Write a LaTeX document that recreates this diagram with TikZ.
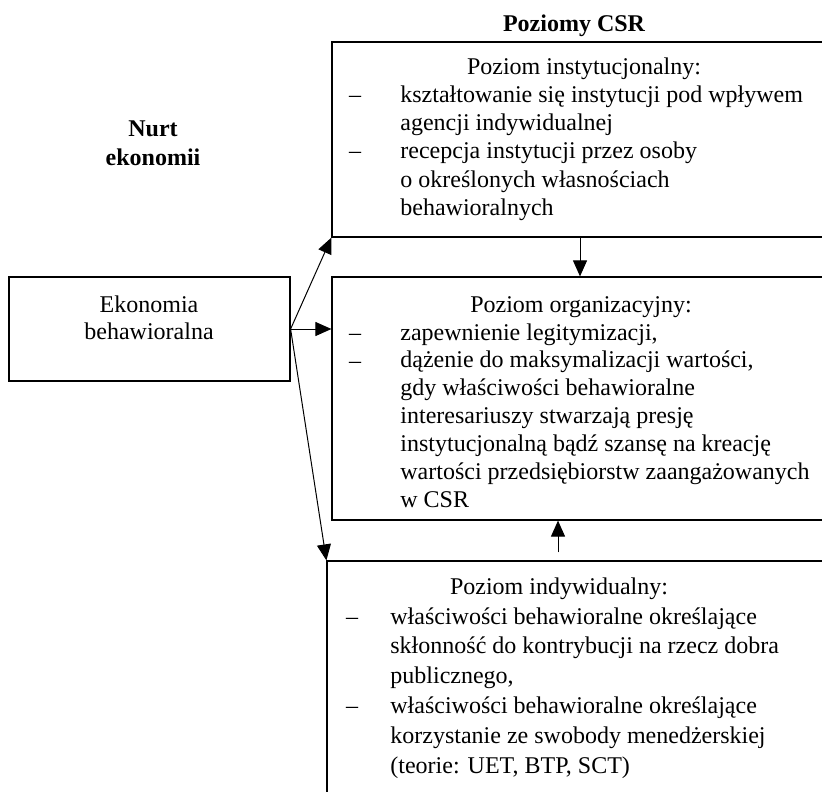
\documentclass[tikz,border=0pt]{standalone}
\usepackage{fontspec}
\setmainfont{Liberation Serif}
\usetikzlibrary{arrows.meta,fit}
\begin{document}
\begin{tikzpicture}[x=0.5pt,y=-0.5pt,
  box/.style={draw,line width=0.6pt,inner sep=0pt},
  tt/.style={font=\fontsize{12}{14}\selectfont,inner sep=0pt},
  bt/.style={font=\fontsize{12}{14}\selectfont\bfseries,inner sep=0pt,anchor=base},
  ln/.style={tt,anchor=base west},
  ttl/.style={tt,anchor=base},
  dsh/.style={tt,anchor=base},
  arr/.style={-{Triangle[length=8pt,width=7pt]},line width=0.5pt}]
\useasboundingbox (0,0) rectangle (822,791);
\fill[white] (0,0) rectangle (822,791);
% boxes
\node[box,fit={(332,42)(860,237)}] (inst) {};
\node[box,fit={(332,277)(860,520)}] (org) {};
\node[box,fit={(327,561)(860,830)}] (ind) {};
\node[box,fit={(9,277)(290,381)}] (eko) {};
% headings
\node[bt] (hcsr) at (574,32) {Poziomy CSR};
\node[bt] (hn1) at (153,137) {Nurt};
\node[bt] (hn2) at (153,165) {ekonomii};
% left box
\node[ttl] (e1) at (149,312) {Ekonomia};
\node[ttl] (e2) at (149,339) {behawioralna};
% top box
\node[ttl] (it) at (584,75) {Poziom instytucjonalny:};
\node[dsh] (id1) at (355,103) {–};
\node[dsh] (id2) at (355,159) {–};
\foreach \t [count=\i] in {{kształtowanie się instytucji pod wpływem},{agencji indywidualnej},{recepcja instytucji przez osoby},{o określonych własnościach},{behawioralnych}}
  \node[ln] (i\i) at (400,{103+28*(\i-1)}) {\t};
% middle box
\node[ttl] (ot) at (581,312) {Poziom organizacyjny:};
\node[dsh] (od1) at (355,340) {–};
\node[dsh] (od2) at (355,368) {–};
\foreach \t [count=\i] in {{zapewnienie legitymizacji,},{dążenie do maksymalizacji wartości,},{gdy właściwości behawioralne},{interesariuszy stwarzają presję},{instytucjonalną bądź szansę na kreację},{wartości przedsiębiorstw zaangażowanych},{w CSR}}
  \node[ln] (o\i) at (400,{340+27.85*(\i-1)}) {\t};
% bottom box
\node[ttl] (dt) at (559,594) {Poziom indywidualny:};
\node[dsh] (dd1) at (352,624) {–};
\node[dsh] (dd2) at (352,713) {–};
\foreach \t [count=\i] in {{właściwości behawioralne określające},{skłonność do kontrybucji na rzecz dobra},{publicznego,},{właściwości behawioralne określające},{korzystanie ze swobody menedżerskiej},{(teorie: UET, BTP, SCT)}}
  \node[ln] (d\i) at (390,{624+29.8*(\i-1)}) {\t};
% arrows
\draw[arr] (eko.east) -- (inst.south west);
\draw[arr] (eko.east) -- (eko.east -| org.west);
\draw[arr] (eko.east) -- (ind.north west);
\coordinate (ax1) at (580,0);
\coordinate (ax2) at (558,0);
\draw[arr] (ax1 |- inst.south) -- (ax1 |- org.north);
\draw[arr] ([yshift=4pt]ax2 |- ind.north) -- (ax2 |- org.south);
\end{tikzpicture}
\end{document}
